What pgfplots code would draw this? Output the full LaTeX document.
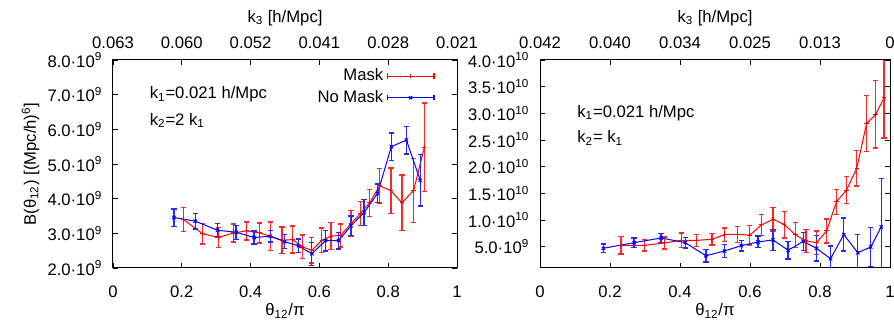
\documentclass[border=0pt]{standalone}
\usepackage{fontspec}
\setmainfont{Liberation Sans}
\usepackage{pgfplots}
\pgfplotsset{compat=1.18}
\usepackage{pgfplotstable}

\pgfplotstableread{
x y e
0.205 3.40 0.34
0.260 2.99 0.30
0.307 2.88 0.29
0.350 3.01 0.26
0.389 3.07 0.26
0.426 3.01 0.29
0.457 2.92 0.41
0.491 2.80 0.38
0.522 2.82 0.39
0.550 2.61 0.34
0.578 2.51 0.37
0.607 2.80 0.35
0.634 2.92 0.39
0.662 2.94 0.33
0.692 3.28 0.38
0.719 3.57 0.35
0.746 3.88 0.39
0.775 4.37 0.50
0.808 4.23 0.65
0.840 3.88 0.80
0.874 4.24 0.92
0.905 5.48 1.28
}\leftred

\pgfplotstableread{
x y e
0.177 3.455 0.25
0.239 3.35 0.23
0.304 3.09 0.20
0.358 3.03 0.20
0.410 2.88 0.19
0.457 2.915 0.17
0.499 2.76 0.20
0.539 2.64 0.20
0.578 2.41 0.33
0.618 2.79 0.30
0.656 2.79 0.24
0.692 3.22 0.28
0.730 3.60 0.37
0.769 4.15 0.27
0.809 5.50 0.39
0.853 5.69 0.40
0.893 4.53 0.74
}\leftblue

\pgfplotstableread{
x y e
0.231 5.25 1.65
0.299 5.25 1.05
0.355 5.69 1.15
0.404 6.19 1.35
0.448 6.19 1.10
0.491 6.38 1.10
0.528 7.26 1.25
0.565 7.33 1.50
0.599 7.14 1.80
0.633 9.08 2.00
0.666 10.15 2.20
0.698 9.15 2.50
0.730 7.20 2.30
0.760 6.07 2.20
0.790 5.75 2.20
0.819 7.95 2.25
0.847 13.42 2.35
0.876 15.62 2.50
0.905 19.70 3.30
0.933 28.06 5.25
0.959 29.80 6.30
0.983 32.90 7.50
}\rightred

\pgfplotstableread{
x y e
0.181 4.69 0.80
0.269 5.75 0.90
0.346 6.63 0.85
0.415 5.75 1.00
0.474 3.30 1.20
0.527 4.18 1.25
0.575 5.19 1.00
0.623 5.88 1.10
0.666 6.26 2.00
0.709 4.31 1.60
0.752 6.00 1.70
0.790 4.69 2.35
0.830 2.74 2.40
0.868 7.26 3.10
0.908 3.87 3.40
0.945 4.94 3.60
0.975 8.70 9.10
}\rightblue

\pgfplotsset{
  base/.style={
    scale only axis,
    anchor=south west,
    tick align=inside,
    major tick length=3pt,
    axis line style={line width=0.6pt},
    tick style={line width=0.5pt, black},
    /pgf/number format/assume math mode=true,
    xmin=0, xmax=1,
    xtick={0,0.2,0.4,0.6,0.8,1},
    yticklabel style={xshift=-3pt},
    clip=true,
  },
  ebar/.style={error bars/.cd, y dir=both, y explicit,
     error bar style={line width=0.8pt,#1},
     error mark options={rotate=90, mark size=1.6pt, line width=0.8pt,#1},
     /pgfplots/.cd},
  redplot/.style={draw=red, line width=0.6pt, mark=+, mark size=1.3pt, mark options={solid,red}},
  blueplot/.style={draw=blue, line width=0.6pt, mark=x, mark size=1.4pt, mark options={solid,blue}},
  ebarleg/.style={legend image code/.code={
     \draw[mark repeat=2,mark phase=2,##1] plot coordinates {(0pt,0pt) (14pt,0pt) (28pt,0pt)};
     \draw[##1,line width=0.8pt] (0pt,-1.6pt)--(0pt,1.6pt) (28pt,-1.6pt)--(28pt,1.6pt);
  }},
}

\begin{document}
\begin{tikzpicture}
\useasboundingbox (0,0) rectangle (536.4pt,194.4pt);

% ---------- left panel ----------
\begin{axis}[base,
  at={(67.8pt,33.6pt)}, width=206.4pt, height=124.8pt,
  ymin=2, ymax=8,
  xticklabels={0,0.2,0.4,0.6,0.8,1},
  xticklabel style={yshift=-7pt},
  ytick={2,3,4,5,6,7,8},
  yticklabels={2.0·10\textsuperscript{9},3.0·10\textsuperscript{9},4.0·10\textsuperscript{9},5.0·10\textsuperscript{9},6.0·10\textsuperscript{9},7.0·10\textsuperscript{9},8.0·10\textsuperscript{9}},
  xlabel={θ\textsubscript{12}/π},
  ylabel={B(θ\textsubscript{12}) [(Mpc/h)\textsuperscript{6}]},
  xlabel style={yshift=3pt},
  ylabel style={yshift=-2pt},
  legend style={draw=none, fill=none, at={(0.936,0.975)}, anchor=north east,
     inner sep=0pt, row sep=0.2pt, legend cell align=right,
     /tikz/every even column/.append style={column sep=6pt}},
  legend plot pos=right,
]
\addplot[redplot, ebarleg, ebar={red!85}] table[x=x,y=y,y error=e] {\leftred};
\addlegendentry{Mask}
\addplot[blueplot, ebarleg, ebar={blue!85}] table[x=x,y=y,y error=e] {\leftblue};
\addlegendentry{No Mask}
\node[anchor=west] at (rel axis cs:0.09,0.835) {k\textsubscript{1}=0.021 h/Mpc};
\node[anchor=west] at (rel axis cs:0.09,0.71) {k\textsubscript{2}=2 k\textsubscript{1}};
\end{axis}
\begin{axis}[base,
  at={(67.8pt,33.6pt)}, width=206.4pt, height=124.8pt,
  ymin=0, ymax=1,
  axis x line*=top, axis y line=none,
  xticklabels={0.063,0.060,0.052,0.041,0.028,0.021},
  xticklabel style={yshift=3pt},
  xlabel={k\textsubscript{3} [h/Mpc]},
]
\end{axis}

% ---------- right panel ----------
\begin{axis}[base,
  at={(324pt,33.6pt)}, width=210pt, height=124.8pt,
  ymin=1, ymax=40,
  xticklabels={0,0.2,0.4,0.6,0.8,1},
  xticklabel style={yshift=-7pt},
  ytick={5,10,15,20,25,30,35,40},
  yticklabels={5.0·10\textsuperscript{9},1.0·10\textsuperscript{10},1.5·10\textsuperscript{10},2.0·10\textsuperscript{10},2.5·10\textsuperscript{10},3.0·10\textsuperscript{10},3.5·10\textsuperscript{10},4.0·10\textsuperscript{10}},
  xlabel={θ\textsubscript{12}/π},
  xlabel style={yshift=3pt},
]
\addplot[redplot, ebar={red!85}] table[x=x,y=y,y error=e] {\rightred};
\addplot[blueplot, ebar={blue!85}] table[x=x,y=y,y error=e] {\rightblue};
\node[anchor=west] at (rel axis cs:0.09,0.745) {k\textsubscript{1}=0.021 h/Mpc};
\node[anchor=west] at (rel axis cs:0.09,0.625) {k\textsubscript{2}= k\textsubscript{1}};
\end{axis}
\begin{axis}[base,
  at={(324pt,33.6pt)}, width=210pt, height=124.8pt,
  ymin=0, ymax=1,
  axis x line*=top, axis y line=none,
  xticklabels={0.042,0.040,0.034,0.025,0.013,0},
  xticklabel style={yshift=3pt},
  xlabel={k\textsubscript{3} [h/Mpc]},
]
\end{axis}
\end{tikzpicture}
\end{document}
